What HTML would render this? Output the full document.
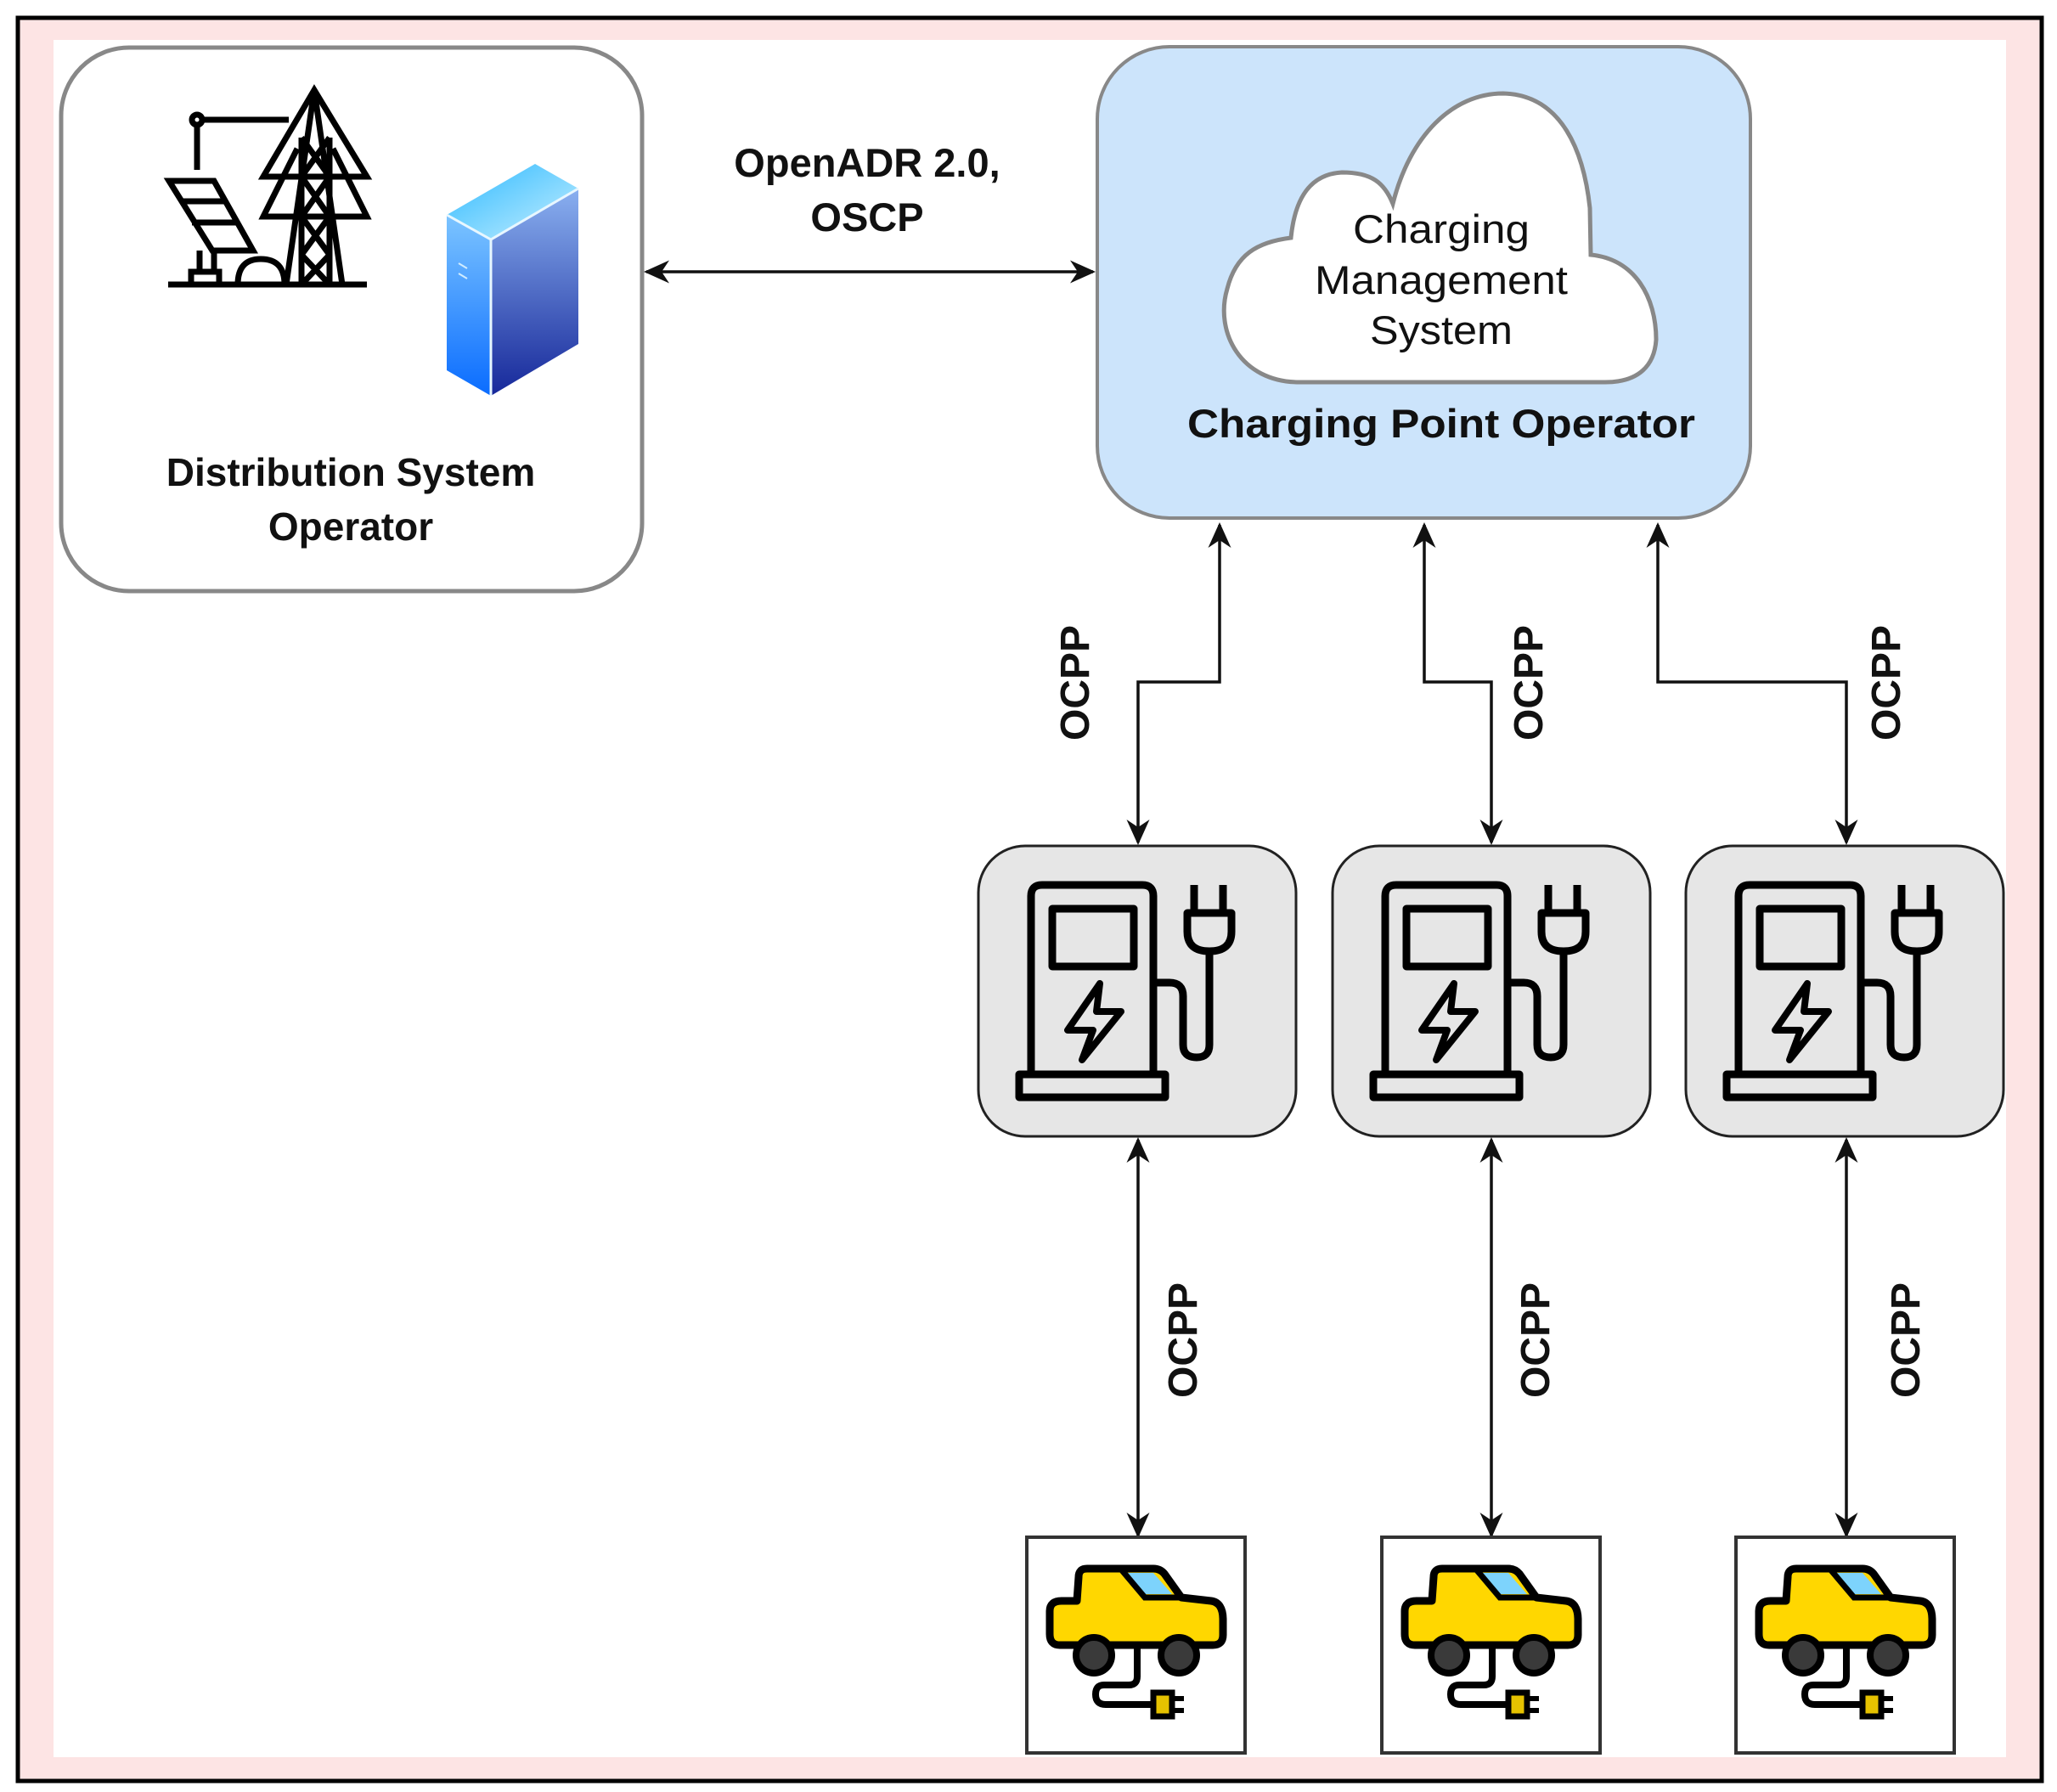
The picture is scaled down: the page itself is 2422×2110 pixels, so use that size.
<!DOCTYPE html>
<html><head><meta charset="utf-8"><style>
html,body{margin:0;padding:0;background:#fff;}
svg{display:block;}
text{font-family:"Liberation Sans",sans-serif;fill:#111;}
</style></head><body>
<svg width="2422" height="2110" viewBox="0 0 2422 2110" xmlns="http://www.w3.org/2000/svg">
<defs>
<marker id="ah" viewBox="0 0 20 20" refX="18" refY="10" markerWidth="30" markerHeight="30" markerUnits="userSpaceOnUse" orient="auto-start-reverse">
<path d="M0,1 L20,10 L0,19 L6,10 Z" fill="#111"/>
</marker>
<linearGradient id="gTop" x1="0" y1="0" x2="1" y2="1"><stop offset="0" stop-color="#2bb8ff"/><stop offset="1" stop-color="#c8f0ff"/></linearGradient>
<linearGradient id="gL" x1="0" y1="0" x2="0" y2="1"><stop offset="0" stop-color="#7cc4ff"/><stop offset="1" stop-color="#0a6cff"/></linearGradient>
<linearGradient id="gR" x1="0" y1="0" x2="0" y2="1"><stop offset="0" stop-color="#8ab0f0"/><stop offset="1" stop-color="#16289a"/></linearGradient>
<g id="charger" fill="none" stroke="#000" stroke-width="9" stroke-linejoin="round">
<path d="M62,270 L62,60 Q62,47 75,47 L193,47 Q206,47 206,60 L206,270"/>
<rect x="48" y="270" width="172" height="27" fill="none"/>
<rect x="87" y="75" width="96" height="68"/>
<path d="M143,163 L105,218 L135,218 L122,253 L168,196 L139,196 Z" stroke-width="8"/>
<path d="M254,47 L254,80 M288,47 L288,80"/>
<path d="M246,80 L298,80 L298,102 Q298,125 272,125 Q246,125 246,102 Z"/>
<path d="M272,125 L272,235 Q272,250 257,250 Q241,250 241,235 L241,178 Q241,162 225,162 L208,162"/>
</g>
<g id="car">
<path d="M40,128 Q28,128 28,115 L28,88 Q28,76 42,76 L60,76 L62,48 Q62,38 72,38 L150,38 Q158,38 163,44 L183,72 L218,76 Q232,78 232,98 L232,116 Q232,128 220,128 Z" fill="#ffd700" stroke="#000" stroke-width="9" stroke-linejoin="round"/>
<path d="M117,43 L150,43 L172,68 L135,68 Z" fill="#7dd3fc"/>
<path d="M113,40 L140,72 L183,72" fill="none" stroke="#000" stroke-width="7"/>
<circle cx="80" cy="140" r="21" fill="#3a3a3a" stroke="#000" stroke-width="8"/>
<circle cx="180" cy="140" r="21" fill="#3a3a3a" stroke="#000" stroke-width="8"/>
<path d="M131,132 L131,165 Q131,175 121,175 L92,175 Q82,175 82,186 Q82,198 94,198 L150,198" fill="none" stroke="#000" stroke-width="8"/>
<rect x="150" y="184" width="22" height="28" fill="#e6c200" stroke="#000" stroke-width="7"/>
<path d="M172,191 L186,191 M172,205 L186,205" stroke="#000" stroke-width="6"/>
</g>
</defs>

<rect x="0" y="0" width="2422" height="2110" fill="#fff"/>
<rect x="21" y="21" width="2383" height="2076" fill="#fde4e4" stroke="#000" stroke-width="5"/>
<rect x="63" y="47" width="2299" height="2022" fill="#fff"/>

<!-- DSO -->
<rect x="72" y="56" width="684" height="640" rx="80" fill="#fff" stroke="#888" stroke-width="5"/>
<g fill="none" stroke="#000" stroke-width="7">
<path d="M198,335 L432,335"/>
<path d="M370,106 L337,335 M370,106 L403,335"/>
<path d="M355,162 L355,335 M388,162 L388,335"/>
<path d="M370,106 L310,208 L432,208 Z M350,175 L310,255 L432,255 L392,175"/>
<path d="M355,162 L388,208 M388,162 L355,208 M355,208 L388,255 M388,208 L355,255 M355,255 L388,300 M388,255 L355,300 M355,300 L388,335 M388,300 L355,335"/>
<circle cx="232" cy="141" r="6"/>
<path d="M238,141 L340,141 M232,147 L232,200"/>
<path d="M199,213 L252,213 L298,295 L250,295 Z M212,237 L265,237 M226,262 L280,262"/>
<path d="M235,295 L235,320 M252,295 L252,320"/>
<rect x="225" y="320" width="33" height="15"/>
<path d="M280,335 Q280,305 307,305 Q335,305 335,335"/>
</g>
<polygon points="526,253 630,193 681,222 578,282" fill="url(#gTop)"/>
<polygon points="526,253 578,282 578,466 526,436" fill="url(#gL)"/>
<polygon points="578,282 681,222 681,405 578,466" fill="url(#gR)"/>
<path d="M526,253 L578,282 L681,222" fill="none" stroke="#e8f7ff" stroke-width="3"/>
<path d="M578,282 L578,466" stroke="#e8f7ff" stroke-width="3"/>
<path d="M540,310 L550,316 M540,322 L550,328" stroke="#d0ecff" stroke-width="2"/>
<text x="413" y="572" font-size="46" font-weight="bold" text-anchor="middle">Distribution System</text>
<text x="413" y="636" font-size="46" font-weight="bold" text-anchor="middle">Operator</text>

<!-- OpenADR arrow -->
<line x1="761" y1="320" x2="1287" y2="320" stroke="#111" stroke-width="3.5" marker-start="url(#ah)" marker-end="url(#ah)"/>
<text x="1021" y="208" font-size="47" font-weight="bold" text-anchor="middle">OpenADR 2.0,</text>
<text x="1021" y="272" font-size="47" font-weight="bold" text-anchor="middle">OSCP</text>

<!-- CPO -->
<rect x="1292" y="55" width="769" height="555" rx="85" fill="#cce4fb" stroke="#888" stroke-width="4"/>
<path d="M1530,450 C1460,450 1430,390 1445,340 C1455,300 1480,285 1520,280 C1525,230 1545,205 1580,203 C1615,203 1630,215 1640,240 C1660,160 1710,110 1770,110 C1840,112 1865,180 1872,245 L1873,300 C1925,305 1950,350 1950,400 C1948,430 1930,450 1890,450 Z" fill="#fff" stroke="#888" stroke-width="5"/>
<text x="1697" y="286" font-size="47" text-anchor="middle" textLength="208" lengthAdjust="spacingAndGlyphs">Charging</text>
<text x="1697" y="346" font-size="47" text-anchor="middle" textLength="298" lengthAdjust="spacingAndGlyphs">Management</text>
<text x="1697" y="405" font-size="47" text-anchor="middle" textLength="168" lengthAdjust="spacingAndGlyphs">System</text>
<text x="1697" y="515" font-size="47" font-weight="bold" text-anchor="middle" textLength="598" lengthAdjust="spacingAndGlyphs">Charging Point Operator</text>

<!-- connectors -->
<g fill="none" stroke="#111" stroke-width="3.5">
<path d="M1436,618 L1436,803 L1340,803 L1340,992" marker-start="url(#ah)" marker-end="url(#ah)"/>
<path d="M1677,618 L1677,803 L1756,803 L1756,992" marker-start="url(#ah)" marker-end="url(#ah)"/>
<path d="M1952,618 L1952,803 L2174,803 L2174,992" marker-start="url(#ah)" marker-end="url(#ah)"/>
<path d="M1340,1342 L1340,1808" marker-start="url(#ah)" marker-end="url(#ah)"/>
<path d="M1756,1342 L1756,1808" marker-start="url(#ah)" marker-end="url(#ah)"/>
<path d="M2174,1342 L2174,1808" marker-start="url(#ah)" marker-end="url(#ah)"/>
</g>
<g font-size="48" font-weight="bold" text-anchor="middle">
<text transform="translate(1282,804) rotate(-90)">OCPP</text>
<text transform="translate(1816,804) rotate(-90)">OCPP</text>
<text transform="translate(2237,804) rotate(-90)">OCPP</text>
<text transform="translate(1409,1578) rotate(-90)">OCPP</text>
<text transform="translate(1824,1578) rotate(-90)">OCPP</text>
<text transform="translate(2260,1578) rotate(-90)">OCPP</text>
</g>

<!-- chargers -->
<rect x="1152" y="996" width="374" height="342" rx="55" fill="#e6e6e6" stroke="#222" stroke-width="3"/>
<rect x="1569" y="996" width="374" height="342" rx="55" fill="#e6e6e6" stroke="#222" stroke-width="3"/>
<rect x="1985" y="996" width="374" height="342" rx="55" fill="#e6e6e6" stroke="#222" stroke-width="3"/>
<use href="#charger" transform="translate(1152,995)"/>
<use href="#charger" transform="translate(1569,995)"/>
<use href="#charger" transform="translate(1985,995)"/>

<!-- cars -->
<rect x="1209" y="1810" width="257" height="254" fill="#fff" stroke="#333" stroke-width="4"/>
<rect x="1627" y="1810" width="257" height="254" fill="#fff" stroke="#333" stroke-width="4"/>
<rect x="2044" y="1810" width="257" height="254" fill="#fff" stroke="#333" stroke-width="4"/>
<use href="#car" transform="translate(1208,1809)"/>
<use href="#car" transform="translate(1626,1809)"/>
<use href="#car" transform="translate(2043,1809)"/>
</svg>
</body></html>
